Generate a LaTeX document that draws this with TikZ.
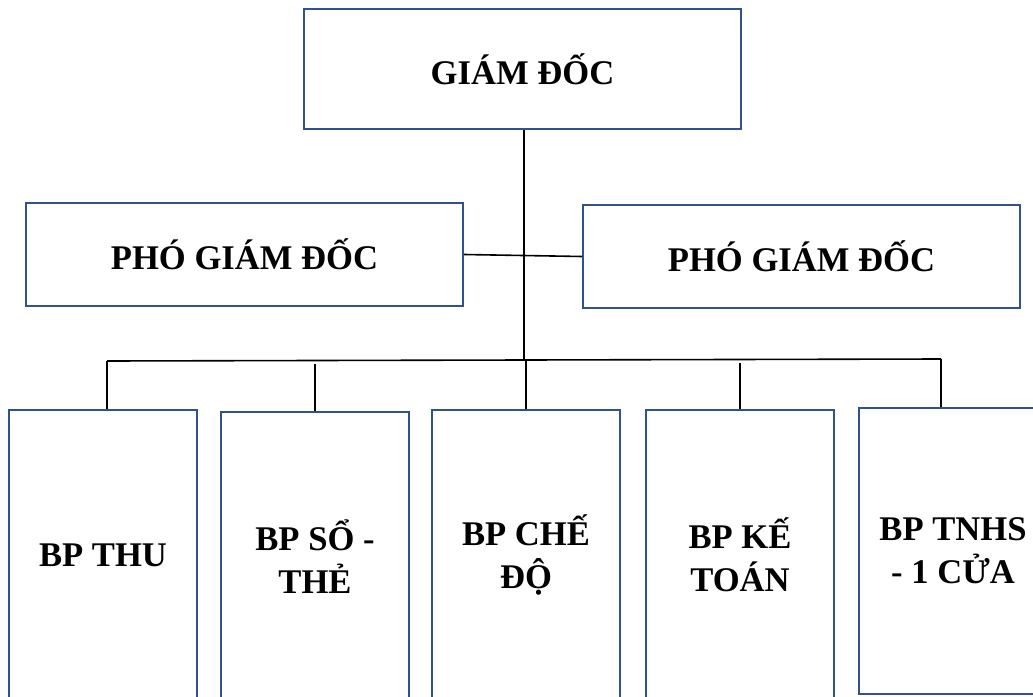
\documentclass[tikz,border=0pt]{standalone}
\usepackage{fontspec}
\setmainfont{Liberation Serif}
\usetikzlibrary{positioning}
\definecolor{boxblue}{RGB}{47,82,143}

\begin{document}
\begin{tikzpicture}[x=0.5pt,y=-0.5pt,
   box/.style={draw=boxblue,line width=1pt,rectangle,inner sep=0pt,align=center,font=\bfseries\fontsize{17.3}{21.5}\selectfont},
   head/.style={box,minimum width=218.5pt,minimum height=60pt},
   vice/.style={box,minimum width=218.5pt,minimum height=51.5pt},
   dept/.style={box,minimum width=94pt,minimum height=145pt},
   link/.style={black,line width=0.8pt}]
\useasboundingbox (0,0) rectangle (1033,696);
% boxes
\node[head] (gd) at (522.5,69) {GIÁM ĐỐC};
\node[vice] (pgd1) at (244.5,254.5) {PHÓ GIÁM ĐỐC};
\node[vice] (pgd2) at (801.5,256.5) {PHÓ GIÁM ĐỐC};
\node[dept] (bp1) at (103,555) {BP THU};
\node[dept] (bp2) at (315,557) {BP SỔ -\\THẺ};
\node[dept] (bp3) at (526,555) {BP CHẾ\\ĐỘ};
\node[dept] (bp4) at (740,555) {BP KẾ\\TOÁN};
\node[dept,minimum height=143pt] (bp5) at (953,551) {BP TNHS\\- 1 CỬA};
% connectors
\coordinate (bus) at (524,361);
\coordinate (t1) at (107,361);
\coordinate (t2) at (315,364);
\coordinate (t3) at (526,361);
\coordinate (t4) at (740,363);
\coordinate (t5) at (941,359);
\draw[link,line width=1pt] (gd.south -| bus) -- (bus);
\draw[link] (pgd1.east) -- (pgd2.west);
\draw[link] (t1) -- (t5);
\foreach \i in {1,...,5} {
   \draw[link] (t\i) -- (t\i |- bp\i.north);
}
\end{tikzpicture}
\end{document}
